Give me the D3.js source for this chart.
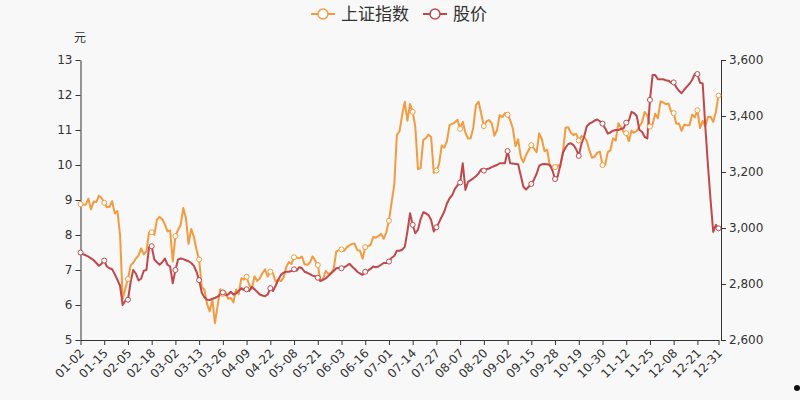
<!DOCTYPE html>
<html><head><meta charset="utf-8">
<script src="https://cdn.jsdelivr.net/npm/d3@7/dist/d3.min.js"></script>
<style>
html,body{margin:0;padding:0;background:#f8f8f8;}
svg{display:block;}
text{font-family:"DejaVu Sans",sans-serif;}
</style></head>
<body>
<svg id="chart" width="800" height="400"></svg>
<script>
const dates = [
"01-02","01-03","01-06","01-07","01-08","01-09","01-10","01-13","01-14","01-15","01-16","01-17","01-20","01-21","01-22","01-23",
"02-03","02-04","02-05","02-06","02-07","02-10","02-11","02-12","02-13","02-14","02-17","02-18","02-19","02-20","02-21","02-24","02-25","02-26","02-27","02-28",
"03-02","03-03","03-04","03-05","03-06","03-09","03-10","03-11","03-12","03-13","03-16","03-17","03-18","03-19","03-20","03-23","03-24","03-25","03-26","03-27","03-30","03-31",
"04-01","04-02","04-03","04-07","04-08","04-09","04-10","04-13","04-14","04-15","04-16","04-17","04-20","04-21","04-22","04-23","04-24","04-27","04-28","04-29","04-30",
"05-06","05-07","05-08","05-11","05-12","05-13","05-14","05-15","05-18","05-19","05-20","05-21","05-22","05-25","05-26","05-27","05-28","05-29",
"06-01","06-02","06-03","06-04","06-05","06-08","06-09","06-10","06-11","06-12","06-15","06-16","06-17","06-18","06-19","06-22","06-23","06-24","06-29","06-30",
"07-01","07-02","07-03","07-06","07-07","07-08","07-09","07-10","07-13","07-14","07-15","07-16","07-17","07-20","07-21","07-22","07-23","07-24","07-27","07-28","07-29","07-30","07-31",
"08-03","08-04","08-05","08-06","08-07","08-10","08-11","08-12","08-13","08-14","08-17","08-18","08-19","08-20","08-21","08-24","08-25","08-26","08-27","08-28","08-31",
"09-01","09-02","09-03","09-04","09-07","09-08","09-09","09-10","09-11","09-14","09-15","09-16","09-17","09-18","09-21","09-22","09-23","09-24","09-25","09-28","09-29","09-30",
"10-09","10-12","10-13","10-14","10-15","10-16","10-19","10-20","10-21","10-22","10-23","10-26","10-27","10-28","10-29","10-30",
"11-02","11-03","11-04","11-05","11-06","11-09","11-10","11-11","11-12","11-13","11-16","11-17","11-18","11-19","11-20","11-23","11-24","11-25","11-26","11-27","11-30",
"12-01","12-02","12-03","12-04","12-07","12-08","12-09","12-10","12-11","12-14","12-15","12-16","12-17","12-18","12-21","12-22","12-23","12-24","12-25","12-28","12-29","12-30","12-31"];

// 上证指数 (right axis)
const indexValues = [
3085.20,3083.79,3083.41,3104.80,3066.89,3094.88,3092.29,3115.57,3106.82,3090.04,3074.08,3075.50,3095.79,3052.14,3060.75,2976.53,
2746.61,2783.29,2818.09,2866.51,2875.96,2890.49,2901.67,2926.90,2906.07,2917.01,2983.62,2984.97,2975.40,3030.15,3039.67,3031.23,3013.05,2987.93,2991.33,2880.30,
2970.93,2992.90,3011.67,3071.68,3034.51,2943.29,2996.76,2968.52,2923.49,2887.43,2789.25,2779.64,2728.76,2702.13,2745.62,2660.17,2722.44,2781.59,2764.91,2772.20,2747.21,2750.30,
2734.52,2780.64,2763.99,2820.76,2815.37,2825.90,2796.63,2783.05,2827.28,2811.17,2819.94,2838.49,2852.55,2827.01,2843.98,2838.50,2808.53,2815.49,2810.02,2822.44,2860.08,
2878.14,2871.52,2895.34,2894.80,2891.56,2898.05,2870.34,2868.46,2875.42,2898.58,2883.74,2867.92,2813.77,2817.97,2846.55,2836.80,2839.54,2852.35,
2915.43,2921.40,2923.37,2919.25,2930.80,2937.77,2943.75,2943.32,2920.90,2919.74,2890.03,2931.75,2934.99,2939.32,2967.63,2965.27,2970.62,2979.55,2961.52,2984.67,
3025.98,3090.57,3152.81,3332.88,3345.34,3403.44,3450.59,3383.32,3443.29,3414.62,3361.30,3210.10,3214.13,3314.15,3320.90,3333.16,3325.11,3196.77,3205.23,3227.96,3294.55,3286.82,3310.01,
3367.97,3371.69,3377.56,3386.46,3354.04,3379.25,3340.29,3319.27,3320.73,3360.10,3438.80,3451.09,3408.13,3363.90,3380.68,3385.64,3373.58,3329.74,3350.11,3403.81,3395.68,
3410.61,3404.80,3384.98,3355.37,3292.59,3316.42,3254.63,3234.82,3260.35,3278.81,3295.68,3283.92,3270.44,3338.09,3316.94,3274.30,3279.71,3223.18,3219.42,3217.53,3224.36,3218.05,
3272.08,3358.47,3359.75,3340.49,3332.18,3336.36,3312.50,3328.10,3325.03,3312.16,3278.00,3251.12,3254.32,3269.24,3272.74,3224.53,
3225.12,3271.07,3277.44,3320.13,3312.16,3373.73,3360.15,3342.20,3338.68,3310.10,3346.97,3339.90,3347.30,3363.09,3377.73,3414.49,3402.82,3362.33,3369.73,3408.31,3391.76,
3451.94,3449.38,3442.14,3444.58,3416.60,3410.18,3371.96,3373.28,3347.19,3369.12,3367.23,3366.98,3404.87,3394.90,3420.57,3356.78,3382.32,3363.11,3396.56,3397.29,3379.04,3414.45,3473.07];

// 股价 (left axis, 元)
const priceValues = [
7.50,7.45,7.42,7.38,7.33,7.28,7.20,7.12,7.18,7.27,7.10,7.05,7.02,6.88,6.72,6.55,
6.00,6.12,6.15,6.65,7.00,6.90,6.70,6.75,6.98,7.00,7.65,7.68,7.30,7.22,7.15,7.22,7.33,7.15,7.10,6.62,
7.00,7.30,7.33,7.31,7.28,7.25,7.20,7.12,6.95,6.71,6.35,6.22,6.15,6.14,6.18,6.20,6.24,6.30,6.36,6.28,6.30,6.38,
6.30,6.33,6.40,6.48,6.43,6.45,6.40,6.52,6.45,6.38,6.30,6.27,6.25,6.30,6.48,6.40,6.55,6.72,6.86,6.92,6.95,6.95,6.97,
7.02,6.98,7.08,7.05,6.95,6.92,6.88,6.84,6.82,6.78,6.68,6.72,6.76,6.83,6.90,6.97,7.05,7.06,
7.05,7.08,7.12,7.18,7.10,7.03,6.95,6.90,6.86,6.95,6.98,7.03,7.10,7.08,7.10,7.15,7.20,7.20,7.24,7.35,
7.40,7.55,7.55,7.58,7.66,8.10,8.62,8.29,8.05,8.15,8.45,8.65,8.62,8.57,8.43,8.10,8.22,8.36,8.52,8.67,8.90,9.05,9.14,
9.32,9.42,9.50,10.05,9.29,9.52,9.57,9.62,9.68,9.76,9.88,9.84,9.88,9.90,9.94,9.97,10.00,10.05,10.05,
10.05,10.40,10.05,10.04,10.03,10.02,9.70,9.38,9.30,9.38,9.46,9.58,9.75,9.98,10.02,10.03,10.02,10.00,9.85,9.60,9.67,10.00,
10.35,10.50,10.60,10.62,10.57,10.45,10.26,10.60,10.80,11.10,11.18,11.22,11.27,11.30,11.25,11.18,
11.05,10.90,10.93,10.98,11.00,11.00,11.03,11.05,11.21,11.27,11.52,11.48,11.40,11.00,10.95,10.80,10.76,11.86,12.57,12.57,12.45,
12.45,12.45,12.42,12.41,12.35,12.36,12.22,12.12,12.05,12.15,12.24,12.32,12.43,12.60,12.60,12.35,12.33,11.10,9.99,8.99,8.09,8.29,8.19];

const leftTicks = [5,6,7,8,9,10,11,12,13];
const rightTicks = [2600,2800,3000,3200,3400,3600];
const seriesNames = ["上证指数","股价"];
const seriesColors = ["#f39b3f","#c0484c"];

(function draw(){
const svg = d3.select("#chart");
const pL = 80.5, pR = 718.5, pT = 60, pB = 340;

const x = d3.scalePoint().domain(dates).range([pL, pR]);
const yL = d3.scaleLinear().domain([5,13]).range([pB, pT]);
const yR = d3.scaleLinear().domain([2600,3600]).range([pB, pT]);

const labelIdx = d3.range(0, dates.length, 9).concat([dates.length-1]).filter((v,i,a)=>a.indexOf(v)===i);
const labelDates = labelIdx.map(i => dates[i]);

// x axis
const xAxis = d3.axisBottom(x).tickValues(labelDates).tickSize(5).tickSizeOuter(0);
const gx = svg.append("g").attr("transform", `translate(0,${pB})`).call(xAxis);
gx.select(".domain").attr("stroke","#333");
gx.selectAll(".tick line").attr("stroke","#333");
gx.selectAll(".tick text")
  .attr("fill","#333").attr("font-size",12)
  .attr("text-anchor","end")
  .attr("x",0).attr("y",0).attr("dy","0.35em")
  .attr("transform","translate(1,11) rotate(-45)");

// left axis
const gl = svg.append("g").attr("transform",`translate(${pL},0)`)
  .call(d3.axisLeft(yL).tickValues(leftTicks).tickSize(5).tickSizeOuter(0).tickFormat(d3.format("d")));
gl.select(".domain").attr("stroke","#333");
gl.selectAll(".tick line").attr("stroke","#333");
gl.selectAll(".tick text").attr("fill","#333").attr("font-size",12).attr("x",-8);

// right axis
const gr = svg.append("g").attr("transform",`translate(721,0)`)
  .call(d3.axisRight(yR).tickValues(rightTicks).tickSize(5).tickSizeOuter(0).tickFormat(d3.format(",")));
gr.select(".domain").attr("stroke","#333");
gr.selectAll(".tick line").attr("stroke","#333");
gr.selectAll(".tick text").attr("fill","#333").attr("font-size",12).attr("x",8);

// unit label
svg.append("text").attr("x",80).attr("y",42).attr("text-anchor","middle")
  .attr("font-size",12).attr("fill","#333")
  .style("font-family","'Noto Sans CJK SC',sans-serif").text("元");

// lines
const series = [
  {name: seriesNames[0], values: indexValues, y: yR, color: seriesColors[0]},
  {name: seriesNames[1], values: priceValues, y: yL, color: seriesColors[1]}
];
series.forEach(s => {
  const line = d3.line().x((d,i)=>x(dates[i])).y(d=>s.y(d));
  svg.append("path").datum(s.values).attr("d",line)
    .attr("fill","none").attr("stroke",s.color).attr("stroke-width",2)
    .attr("stroke-linejoin","round");
});
series.forEach(s => {
  svg.append("g").selectAll("circle").data(labelIdx).join("circle")
    .attr("cx", i => x(dates[i])).attr("cy", i => s.y(s.values[i]))
    .attr("r", 2.5).attr("fill","#fff").attr("stroke", s.color).attr("stroke-width",1);
});

// legend
const legend = svg.append("g");
const items = [{x:311, tx:341}, {x:423, tx:453}];
series.forEach((s,k) => {
  const g = legend.append("g");
  g.append("line").attr("x1",items[k].x).attr("x2",items[k].x+24).attr("y1",14).attr("y2",14)
    .attr("stroke",s.color).attr("stroke-width",2);
  g.append("circle").attr("cx",items[k].x+12).attr("cy",14).attr("r",5)
    .attr("fill","#fff").attr("stroke",s.color).attr("stroke-width",1.5);
  g.append("text").attr("x",items[k].tx).attr("y",14).attr("dy","0.35em")
    .attr("font-size",17).attr("fill","#333")
    .style("font-family","'Noto Sans CJK SC',sans-serif").text(s.name);
});

// small dot bottom-right
svg.append("circle").attr("cx",797).attr("cy",388).attr("r",3).attr("fill","#111");
})();
</script>
</body></html>
